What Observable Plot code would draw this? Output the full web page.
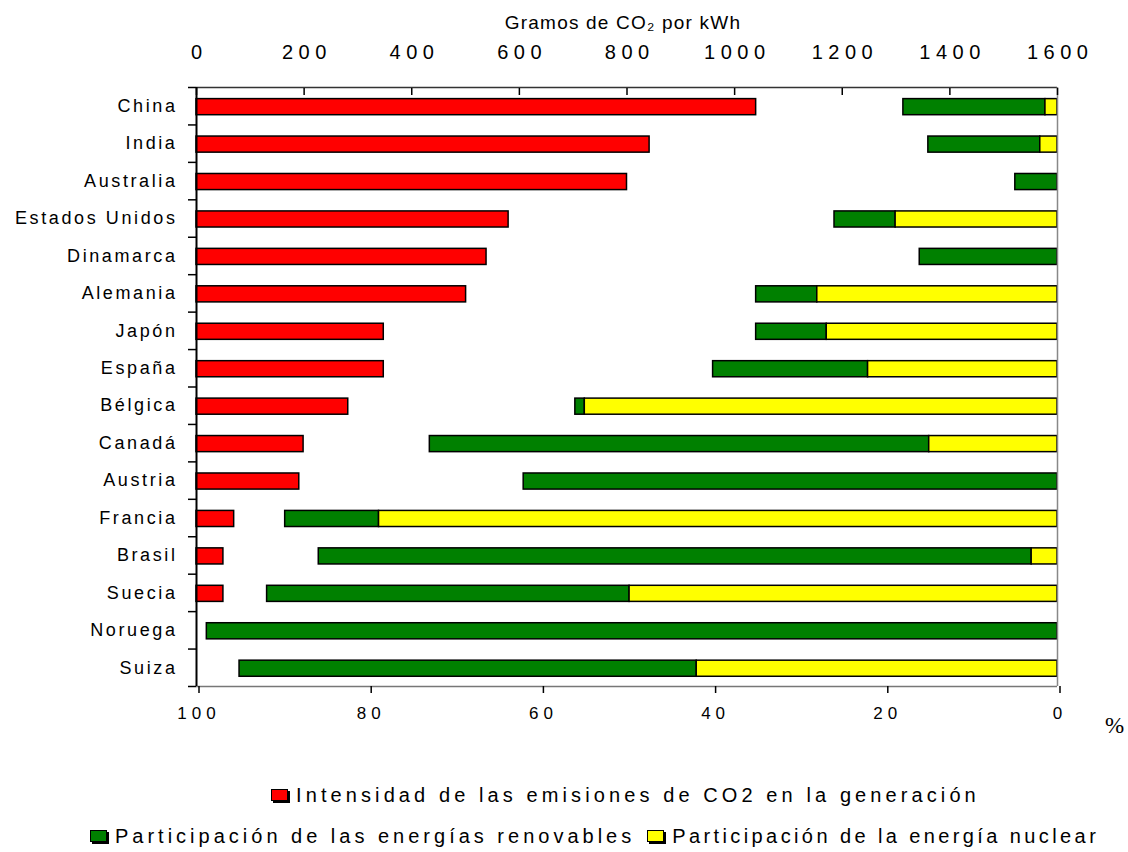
<!DOCTYPE html>
<html><head><meta charset="utf-8">
<script src="https://cdn.jsdelivr.net/npm/d3@7"></script>
<script src="https://cdn.jsdelivr.net/npm/@observablehq/plot@0.6"></script>
<style>
body{margin:0;background:#fff;font-family:"Liberation Sans",Arial,sans-serif;}
#wrap{position:relative;width:1128px;height:852px;}
#wrap svg{position:absolute;left:0;top:0;}
.legend{position:absolute;display:flex;align-items:center;font-size:20px;color:#000;white-space:nowrap;line-height:24px;}
.item{display:flex;align-items:center;}
.sw{display:inline-block;width:15px;height:10px;border:1.5px solid #000;box-shadow:2px 2px 0 #000;margin-right:8px;}
</style></head><body><div id="wrap"></div>
<script>
const countries = ["China","India","Australia","Estados Unidos","Dinamarca","Alemania","Japón","España","Bélgica","Canadá","Austria","Francia","Brasil","Suecia","Noruega","Suiza"];
const co2Intensity = [1040, 842, 800, 580, 539, 501, 348, 348, 282, 199, 191, 70, 50, 50, null, null];
const renewableShare = [16.5, 13, 4.9, 7.1, 16, 7.1, 8.2, 18, 1.1, 58, 62, 10.9, 82.8, 42.1, 98.8, 53.1];
const nuclearShare = [1.4, 2, 0, 18.8, 0, 27.9, 26.8, 22, 54.9, 14.9, 0, 78.8, 3, 49.7, 0, 41.9];
const gramTicks = [0, 200, 400, 600, 800, 1000, 1200, 1400, 1600];
const pctTicks = [100, 80, 60, 40, 20, 0];
const legendLabels = ["Intensidad de las emisiones de CO2 en la generación", "Participación de las energías renovables", "Participación de la energía nuclear"];
const titleText = "Gramos de CO₂ por kWh";

const GMAX = 1600;
const pctToG = p => GMAX * (1 - p / 100);
const rows = countries.map((c, i) => ({c, i, co2: co2Intensity[i], ren: renewableShare[i], nuc: nuclearShare[i]}));
const B0 = 0.31, B1 = 0.74;

const chart = Plot.plot({
  width: 1128, height: 760,
  marginLeft: 196, marginRight: 71, marginTop: 87, marginBottom: 74,
  style: {fontFamily: "'Liberation Sans', Arial, sans-serif", fontSize: "16px", color: "#000", background: "transparent"},
  x: {domain: [0, GMAX]},
  y: {domain: [0, countries.length], reverse: true},
  marks: [
    Plot.rect(rows.filter(d => d.co2 != null), {x1: 0, x2: "co2", y1: d => d.i + B0, y2: d => d.i + B1, fill: "#ff0000", stroke: "#000", strokeWidth: 1.5}),
    Plot.rect(rows.filter(d => d.ren > 0), {x1: d => pctToG(d.ren + d.nuc), x2: d => pctToG(d.nuc), y1: d => d.i + B0, y2: d => d.i + B1, fill: "#008000", stroke: "#000", strokeWidth: 1.5}),
    Plot.rect(rows.filter(d => d.nuc > 0), {x1: d => pctToG(d.nuc), x2: GMAX, y1: d => d.i + B0, y2: d => d.i + B1, fill: "#ffff00", stroke: "#000", strokeWidth: 1.5}),
    Plot.ruleY([0], {stroke: "#333", strokeWidth: 1.5}),
    Plot.ruleY([countries.length], {stroke: "#777", strokeWidth: 1.5}),
    Plot.ruleX([GMAX], {stroke: "#888", strokeWidth: 1.5}),
    Plot.ruleX([0], {stroke: "#000", strokeWidth: 2}),
    Plot.axisY(d3.range(countries.length + 1), {tickSize: 8, tickFormat: () => "", label: null, strokeWidth: 1.5}),
    Plot.axisY(d3.range(countries.length).map(i => i + 0.5), {tickSize: 0, tickPadding: 19, tickFormat: v => countries[Math.floor(v)], label: null, fontSize: 18}),
    Plot.axisX(gramTicks, {anchor: "top", tickSize: -7, tickFormat: () => "", label: null, strokeWidth: 1.5}),
    Plot.axisX(gramTicks, {anchor: "top", tickSize: 0, tickPadding: 29, tickFormat: d => String(d), label: null, fontSize: 20, dx: 2.7}),
    Plot.axisX(pctTicks.map(pctToG), {anchor: "bottom", tickSize: 7, tickPadding: 13, tickFormat: v => String(Math.round(100 - v / 16)), label: null, fontSize: 17, strokeWidth: 1.5, dx: 2.5}),
    Plot.text([titleText], {frameAnchor: "top", dy: -72, fontSize: 19, fill: "#000", dx: -4}),
    Plot.text(["%"], {frameAnchor: "bottom-right", textAnchor: "middle", lineAnchor: "middle", dx: 57, dy: 39, fontSize: 23, fontFamily: "'Liberation Serif', 'Times New Roman', serif", fill: "#000"})
  ]
});
const wrap = document.getElementById("wrap");
wrap.appendChild(chart);

// letter spacing like the original Excel rendering
const svg = d3.select(chart);
svg.selectAll('g[aria-label="y-axis tick label"] text').style("letter-spacing", "2.6px");
const xl = svg.selectAll('g[aria-label="x-axis tick label"]').nodes();
const withText = xl.filter(g => Array.from(g.querySelectorAll("text")).some(t => t.textContent !== ""));
if (withText[0]) d3.select(withText[0]).selectAll("text").style("letter-spacing", "5.5px");
if (withText[1]) d3.select(withText[1]).selectAll("text").style("letter-spacing", "5px");
svg.selectAll("text").filter(function() { return this.textContent === titleText; }).style("letter-spacing", "1.2px");

const colors = ["#ff0000", "#008000", "#ffff00"];
function legendRow(left, top, items) {
  const div = document.createElement("div");
  div.className = "legend";
  div.style.left = left + "px";
  div.style.top = top + "px";
  items.forEach(({k, ls, gap}) => {
    const it = document.createElement("span");
    it.className = "item";
    it.style.letterSpacing = ls + "px";
    if (gap) it.style.marginLeft = gap + "px";
    const sw = document.createElement("span");
    sw.className = "sw";
    sw.style.background = colors[k];
    it.appendChild(sw);
    it.appendChild(document.createTextNode(legendLabels[k]));
    div.appendChild(it);
  });
  wrap.appendChild(div);
}
legendRow(271, 783, [{k: 0, ls: 4.1}]);
legendRow(90, 824, [{k: 1, ls: 4.0}, {k: 2, ls: 3.4, gap: 12}]);
</script></body></html>
